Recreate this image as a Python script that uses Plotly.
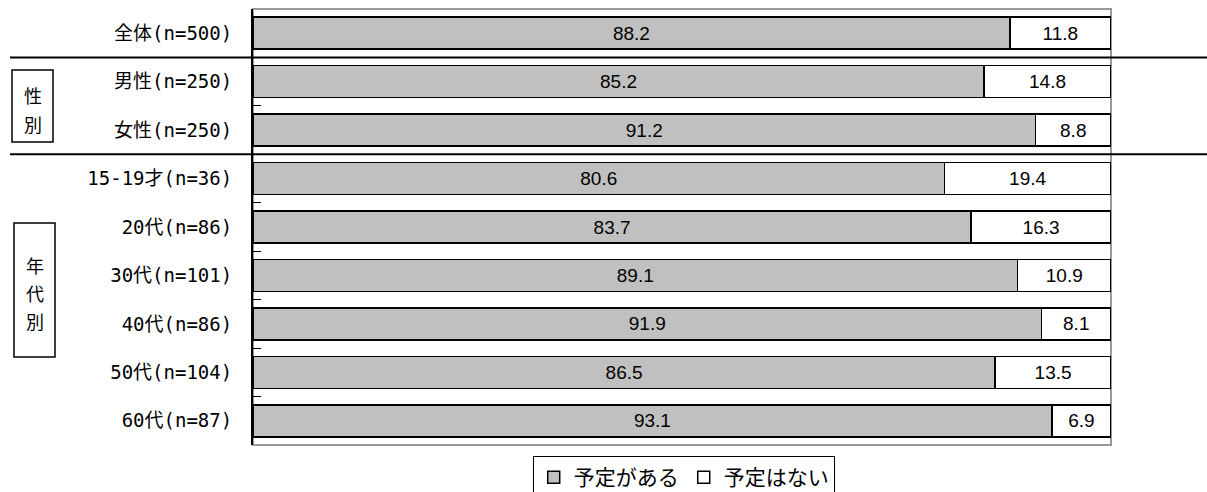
import plotly.graph_objects as go

categories = ["全体(n=500)", "男性(n=250)", "女性(n=250)", "15-19才(n=36)", "20代(n=86)",
              "30代(n=101)", "40代(n=86)", "50代(n=104)", "60代(n=87)"]
yes_vals = [88.2, 85.2, 91.2, 80.6, 83.7, 89.1, 91.9, 86.5, 93.1]
no_vals = [11.8, 14.8, 8.8, 19.4, 16.3, 10.9, 8.1, 13.5, 6.9]
series_names = ["予定がある", "予定はない"]
group_chars = [["性", "別"], ["年", "代", "別"]]

FONT = "Noto Sans CJK JP"
LABEL_FONT = "DejaVu Sans Mono, Noto Sans CJK JP"
NUM_FONT = "Liberation Sans, Arial"
W, H = 1207, 492
L, R, T, B = 253, 96, 9, 47
PW = W - L - R
PH = H - T - B

def px2x(px):
    return (px - L) / PW

def px2y(py):
    return 1 - (py - T) / PH

fig = go.Figure()
fig.add_trace(go.Bar(
    y=categories, x=yes_vals, orientation="h", name=series_names[0],
    marker=dict(color="#C0C0C0", line=dict(color="#000000", width=1.5)),
    text=[f"{v:.1f}" for v in yes_vals], textposition="inside", insidetextanchor="middle",
    textfont=dict(family=NUM_FONT, size=19, color="#000000"), width=0.66,
    constraintext="none", hoverinfo="skip",
))
fig.add_trace(go.Bar(
    y=categories, x=no_vals, orientation="h", name=series_names[1],
    marker=dict(color="#FFFFFF", line=dict(color="#000000", width=1.5)),
    text=[f"{v:.1f}" for v in no_vals], textposition="inside", insidetextanchor="middle",
    textfont=dict(family=NUM_FONT, size=19, color="#000000"), width=0.66,
    constraintext="none", hoverinfo="skip",
))

shapes = []
# gray plot border
shapes.append(dict(type="rect", xref="paper", yref="paper", x0=0, x1=1, y0=0, y1=1,
                   line=dict(color="#999999", width=2), layer="below"))
# separator lines
for yb in [0.5, 2.5]:
    shapes.append(dict(type="line", xref="paper", yref="y", x0=px2x(10), x1=px2x(1207),
                       y0=yb, y1=yb, line=dict(color="#000000", width=2)))
# group boxes
boxes = [(12, 53, 70, 142), (14, 55, 223, 357)]
char_centers = [[95, 124], [265, 293, 321]]
annotations = []
for (bx0, bx1, by0, by1), chars, cys in zip(boxes, group_chars, char_centers):
    shapes.append(dict(type="rect", xref="paper", yref="paper",
                       x0=px2x(bx0), x1=px2x(bx1), y0=px2y(by1), y1=px2y(by0),
                       line=dict(color="#000000", width=1.5), fillcolor="#FFFFFF"))
    for ch, cy in zip(chars, cys):
        annotations.append(dict(xref="paper", yref="paper", x=px2x((bx0 + bx1) / 2),
                                y=px2y(cy), text=ch, showarrow=False,
                                xanchor="center", yanchor="middle",
                                font=dict(family=FONT, size=18, color="#000000")))

fig.update_layout(
    barmode="stack",
    width=W, height=H,
    margin=dict(l=L, r=R, t=T, b=B, autoexpand=False),
    paper_bgcolor="#FFFFFF", plot_bgcolor="#FFFFFF",
    font=dict(family=FONT, size=18, color="#000000"),
    shapes=shapes, annotations=annotations,
    xaxis=dict(range=[0, 100], showticklabels=False, showgrid=False, zeroline=False,
               ticks="", fixedrange=True),
    yaxis=dict(autorange="reversed", showline=True, linecolor="#000000", linewidth=2,
               ticks="inside", ticklen=8, tickcolor="#000000", tickwidth=1,
               tickson="boundaries", showgrid=False, ticklabelstandoff=15,
               tickfont=dict(family=LABEL_FONT, size=19, color="#000000")),
    legend=dict(orientation="h", x=0.502, xanchor="center", y=px2y(456), yanchor="top",
                bordercolor="#000000", borderwidth=1, bgcolor="#FFFFFF",
                font=dict(family=FONT, size=21, color="#000000"),
                itemwidth=30, traceorder="normal", tracegroupgap=0),
    showlegend=True,
)

fig.write_html("out.html", config={"displayModeBar": False},
               post_script="document.body.style.margin='0';document.body.style.padding='0';")
